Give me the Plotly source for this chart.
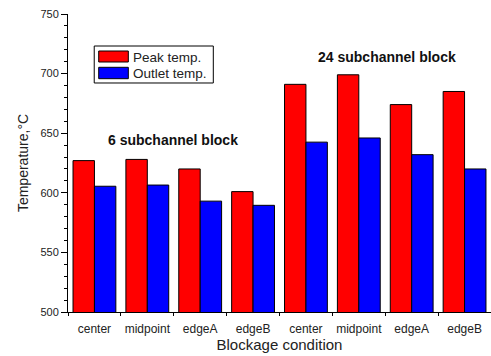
import plotly.graph_objects as go

conditions = ["center", "midpoint", "edgeA", "edgeB", "center", "midpoint", "edgeA", "edgeB"]
peak_temp = [627, 628, 620, 601, 691, 699, 674, 685]
outlet_temp = [605.5, 606.5, 593, 589.5, 642.5, 646, 632, 620]
group_labels = ["6 subchannel block", "24 subchannel block"]
legend_names = ["Peak temp.", "Outlet temp."]

xpos = list(range(len(conditions)))
FONT = "Liberation Sans, Arial, sans-serif"

fig = go.Figure()
fig.add_trace(go.Bar(x=xpos, y=peak_temp, name=legend_names[0],
                     marker=dict(color="#FF0000", line=dict(color="black", width=1))))
fig.add_trace(go.Bar(x=xpos, y=outlet_temp, name=legend_names[1],
                     marker=dict(color="#0000FF", line=dict(color="black", width=1))))

fig.update_layout(
    width=491, height=356,
    margin=dict(l=68, r=0, t=14, b=44),
    plot_bgcolor="white", paper_bgcolor="white",
    barmode="group", bargap=0.19, bargroupgap=0,
    showlegend=False,
    font=dict(family=FONT, color="black"),
)

fig.update_xaxes(
    range=[-0.5, 7.5], tickmode="array", tickvals=xpos, ticktext=conditions,
    ticks="", showgrid=False, zeroline=False,
    showline=True, linecolor="black", linewidth=1,
    tickfont=dict(size=12, family=FONT, color="#222"),
    ticklabelstandoff=6,
    minor=dict(tickmode="array", tickvals=[i - 0.5 for i in range(len(conditions) + 1)],
               ticks="outside", ticklen=3, tickcolor="black", tickwidth=1, showgrid=False),
    title=dict(text="Blockage condition", font=dict(size=15, family=FONT, color="#222"), standoff=4),
)
fig.update_yaxes(
    range=[500, 750], tickmode="linear", tick0=500, dtick=50,
    ticks="outside", ticklen=6, tickcolor="black", tickwidth=1,
    showgrid=False, zeroline=False,
    showline=True, linecolor="black", linewidth=1,
    tickfont=dict(size=11, family=FONT, color="#222"),
    minor=dict(dtick=10, ticks="outside", ticklen=3, tickcolor="black", tickwidth=1, showgrid=False),
    title=dict(text="Temperature,°C", font=dict(size=14, family=FONT, color="#222"), standoff=8),
)

# group annotations
fig.add_annotation(x=1.49, y=644, text="<b>" + group_labels[0] + "</b>", showarrow=False,
                   font=dict(size=14, family=FONT, color="#111"), xanchor="center", yanchor="middle")
fig.add_annotation(x=5.54, y=714, text="<b>" + group_labels[1] + "</b>", showarrow=False,
                   font=dict(size=14, family=FONT, color="#111"), xanchor="center", yanchor="middle")

# custom legend box with wide swatches
fig.add_shape(type="rect", xref="paper", yref="paper", x0=0.062, x1=0.3435, y0=0.7685, y1=0.8926,
              line=dict(color="black", width=1), fillcolor="white", layer="above")
fig.add_shape(type="rect", xref="paper", yref="paper", x0=0.0726, x1=0.1426, y0=0.8389, y1=0.8758,
              line=dict(color="black", width=1), fillcolor="#FF0000", layer="above")
fig.add_shape(type="rect", xref="paper", yref="paper", x0=0.0726, x1=0.1426, y0=0.7829, y1=0.8211,
              line=dict(color="black", width=1), fillcolor="#0000FF", layer="above")
fig.add_annotation(xref="paper", yref="paper", x=0.1500, y=0.8557, text=legend_names[0],
                   showarrow=False, xanchor="left", yanchor="middle", font=dict(size=13.5, family=FONT, color="#222"))
fig.add_annotation(xref="paper", yref="paper", x=0.1500, y=0.8020, text=legend_names[1],
                   showarrow=False, xanchor="left", yanchor="middle", font=dict(size=13.5, family=FONT, color="#222"))

fig.write_html("out.html")
